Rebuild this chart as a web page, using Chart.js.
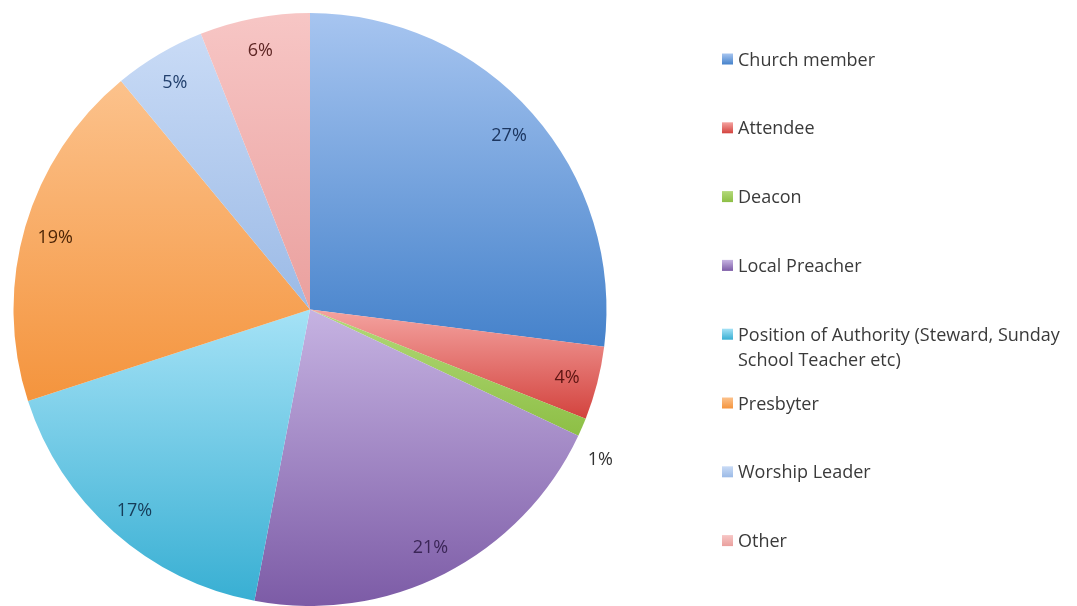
<!DOCTYPE html>
<html>
<head>
<meta charset="utf-8">
<script src="https://cdn.jsdelivr.net/npm/chart.js@4.4.1/dist/chart.umd.min.js"></script>
<style>
html, body { margin: 0; padding: 0; background: #fff; }
</style>
</head>
<body>
<canvas id="chart-roles" width="1077" height="606"></canvas>
<script>
var categories = ['Church member', 'Attendee', 'Deacon', 'Local Preacher',
    'Position of Authority (Steward, Sunday School Teacher etc)', 'Presbyter', 'Worship Leader', 'Other'];
var legendLines = [['Church member'], ['Attendee'], ['Deacon'], ['Local Preacher'],
    ['Position of Authority (Steward, Sunday', 'School Teacher etc)'], ['Presbyter'], ['Worship Leader'], ['Other']];
var percents = [27, 4, 1, 21, 17, 19, 5, 6];

// light (top) and dark (bottom) end of each slice's shading
var topColors = ['#a7c5f0', '#f4a3a0', '#b3d97a', '#c6b3e2', '#a5e2f6', '#fcc28c', '#c9dbf6', '#f7c6c5'];
var bottomColors = ['#4582cb', '#d3433e', '#8dbf45', '#7c5ba6', '#38afd3', '#f4943d', '#9bbae6', '#eaa09e'];
var labelColors = ['#1c3660', '#5c1512', '#333333', '#3b2657', '#163c58', '#4d2506', '#22406e', '#5e2624'];

var rolesChart = document.getElementById('chart-roles');

// vertical gradient over the extent of each slice
var sliceShading = {
    id: 'sliceShading',
    beforeDatasetsDraw: function(chart) {
        var ctx = chart.ctx;
        chart.getDatasetMeta(0).data.forEach(function(arc, i) {
            var p = arc.getProps(['x', 'y', 'startAngle', 'endAngle', 'outerRadius']);
            var ys = [p.y, p.y + p.outerRadius * Math.sin(p.startAngle), p.y + p.outerRadius * Math.sin(p.endAngle)];
            [-Math.PI / 2, Math.PI / 2, 3 * Math.PI / 2].forEach(function(a) {
                if (a > p.startAngle && a < p.endAngle) ys.push(p.y + p.outerRadius * Math.sin(a));
            });
            var g = ctx.createLinearGradient(0, Math.min.apply(null, ys), 0, Math.max.apply(null, ys));
            g.addColorStop(0, topColors[i]);
            g.addColorStop(1, bottomColors[i]);
            arc.options = Object.assign({}, arc.options, {backgroundColor: g});
        });
    }
};

var sliceLabels = {
    id: 'sliceLabels',
    afterDatasetsDraw: function(chart) {
        var ctx = chart.ctx;
        ctx.save();
        ctx.font = '18px "Open Sans"';
        ctx.textAlign = 'center';
        ctx.textBaseline = 'middle';
        chart.getDatasetMeta(0).data.forEach(function(arc, i) {
            var p = arc.getProps(['x', 'y', 'startAngle', 'endAngle', 'outerRadius']);
            var mid = (p.startAngle + p.endAngle) / 2;
            var k = 0.895;
            if (percents[i] < 2) { k = 1.1; mid += 0.065; } // tiny slice: label sits outside
            ctx.fillStyle = labelColors[i];
            ctx.fillText(percents[i] + '%', p.x + Math.cos(mid) * p.outerRadius * k, p.y + 2 + Math.sin(mid) * p.outerRadius * k);
        });
        ctx.restore();
    }
};

var sideLegend = {
    id: 'sideLegend',
    afterDraw: function(chart) {
        var ctx = chart.ctx;
        ctx.save();
        ctx.font = '18px "Open Sans"';
        ctx.textBaseline = 'middle';
        legendLines.forEach(function(lines, i) {
            var y = 60.5 + i * 68.8;
            var g = ctx.createLinearGradient(0, y - 7, 0, y + 4);
            g.addColorStop(0, topColors[i]);
            g.addColorStop(1, bottomColors[i]);
            ctx.fillStyle = g;
            ctx.fillRect(722, y - 7, 11, 11);
            ctx.fillStyle = '#3a3a3a';
            lines.forEach(function(t, j) {
                ctx.fillText(t, 738, y + j * 25);
            });
        });
        ctx.restore();
    }
};

new Chart(rolesChart, {
    type: 'pie',
    data: {
        labels: categories,
        datasets: [
            {
                data: percents,
                backgroundColor: bottomColors,
                borderWidth: 0
            }
        ]
    },
    options: {
        responsive: false,
        animation: false,
        layout: {padding: {left: 13, top: 13, right: 470, bottom: 0}},
        plugins: {
            legend: {display: false},
            tooltip: {enabled: false}
        }
    },
    plugins: [sliceShading, sliceLabels, sideLegend]
});
</script>
</body>
</html>
